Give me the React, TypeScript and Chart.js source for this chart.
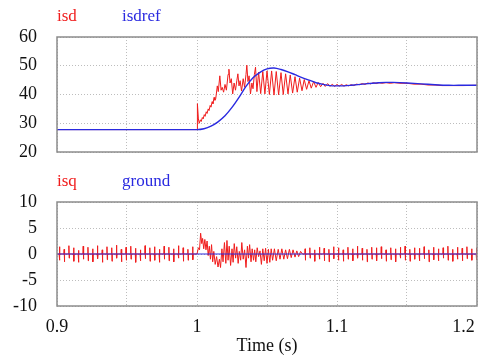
import React, { useEffect, useRef } from 'react';
import { Chart, registerables } from 'chart.js';

Chart.register(...registerables);

// ---------- axis / tick data ----------
const xGridValues = [0.9, 0.95, 1.0, 1.05, 1.1, 1.15, 1.2];
const xTickLabels = ['0.9', '', '1', '', '1.1', '', '1.2      '];
const topYTicks = [20, 30, 40, 50, 60];
const bottomYTicks = [-10, -5, 0, 5, 10];

// ---------- isd (red, top) ----------
const isdTime = [
  0.9, 1.0, 1.0003, 1.001, 1.0016, 1.0024, 1.003, 1.0038, 1.0044, 1.0052, 1.0058, 1.0066, 1.0072,
  1.008, 1.0086, 1.0094, 1.01, 1.0108, 1.0114, 1.0122, 1.0128, 1.0134, 1.0145, 1.0152, 1.0163,
  1.0172, 1.018, 1.019, 1.02, 1.021, 1.0222, 1.0228, 1.0236, 1.0245, 1.0255, 1.0265, 1.0275,
  1.0285, 1.0292, 1.03, 1.0308, 1.0318, 1.033, 1.034, 1.035, 1.0356, 1.0364, 1.0372, 1.0382,
  1.0392, 1.04, 1.041, 1.0418, 1.0428, 1.044, 1.0455, 1.047, 1.0485, 1.05, 1.0517, 1.0533,
  1.055, 1.0566, 1.0583, 1.06, 1.0616, 1.0633, 1.065, 1.0666, 1.0683, 1.07, 1.0716, 1.0733,
  1.075, 1.0766, 1.0783, 1.08, 1.0816, 1.0833, 1.085, 1.0866, 1.0883, 1.09, 1.0916, 1.0933,
  1.095, 1.0966, 1.0983, 1.1, 1.1016, 1.1033, 1.105, 1.1066, 1.1083, 1.11, 1.112, 1.114, 1.116,
  1.118, 1.12, 1.122, 1.124, 1.126, 1.128, 1.13, 1.132, 1.135, 1.138, 1.141, 1.145, 1.15, 1.155,
  1.16, 1.165, 1.17, 1.175, 1.18, 1.19, 1.2,
];
const isdValue = [
  27.8, 27.8, 36.8, 31.5, 30.0, 31.2, 30.6, 32.0, 31.5, 33.0, 32.4, 34.0, 33.4,
  35.0, 34.4, 36.2, 35.6, 37.5, 36.8, 39.0, 38.0, 38.6, 43.0, 41.0, 46.5,
  41.5, 42.5, 40.8, 43.5, 41.5, 47.0, 48.8, 44.0, 45.5, 40.2, 44.0, 41.5,
  45.0, 47.2, 43.0, 44.8, 41.2, 45.5, 42.5, 47.0, 50.2, 44.5, 46.5, 40.2,
  44.0, 42.0, 47.0, 49.5, 41.0, 47.8, 40.3, 48.0, 40.2, 48.2, 40.0, 48.2,
  39.8, 48.0, 39.9, 47.6, 40.0, 47.2, 40.2, 46.8, 40.5, 46.2, 40.8, 45.7,
  41.3, 45.2, 41.8, 44.8, 42.2, 44.5, 42.5, 44.2, 42.7, 43.9, 42.8, 43.8,
  42.8, 43.6, 42.8, 43.5, 42.9, 43.5, 42.9, 43.4, 43.0, 43.4, 43.1, 43.6, 43.4,
  43.8, 43.5, 44.0, 43.7, 44.1, 43.8, 44.1, 43.9, 44.1, 43.9, 44.1, 43.9, 43.9, 43.6,
  43.6, 43.3, 43.3, 43.1, 43.1, 43.1, 43.2,
];

// ---------- isdref (blue, top) ----------
const isdrefTime = [
  0.9, 1.0, 1.005, 1.01, 1.015, 1.02, 1.025, 1.03, 1.035, 1.04, 1.045, 1.05, 1.055, 1.06,
  1.065, 1.07, 1.075, 1.08, 1.085, 1.09, 1.095, 1.1, 1.105, 1.11, 1.12, 1.13, 1.135, 1.14,
  1.15, 1.16, 1.17, 1.18, 1.19, 1.2,
];
const isdrefValue = [
  27.8, 27.8, 28.1, 29.0, 30.5, 32.6, 35.5, 39.0, 42.8, 45.8, 47.7, 48.9, 49.2, 48.7,
  47.9, 46.9, 45.9, 45.0, 44.1, 43.5, 43.1, 43.0, 43.0, 43.2, 43.7, 44.1, 44.2, 44.2,
  44.0, 43.7, 43.4, 43.2, 43.2, 43.2,
];

// ---------- isq (red, bottom) ----------
const isqSpikeTime = [
  0.9015, 0.9049, 0.9083, 0.9117, 0.9151, 0.9185, 0.9219, 0.9253, 0.9287, 0.9321, 0.9355,
  0.9389, 0.9423, 0.9457, 0.9491, 0.9525, 0.9559, 0.9593, 0.9627, 0.9661, 0.9695, 0.9729,
  0.9763, 0.9797, 0.9831, 0.9865, 0.9899, 0.9933, 0.9967,
  1.077, 1.0804, 1.0838, 1.0872, 1.0906, 1.094, 1.0974, 1.1008, 1.1042, 1.1076, 1.111,
  1.1144, 1.1178, 1.1212, 1.1246, 1.128, 1.1314, 1.1348, 1.1382, 1.1416, 1.145, 1.1484,
  1.1518, 1.1552, 1.1586, 1.162, 1.1654, 1.1688, 1.1722, 1.1756, 1.179, 1.1824, 1.1858,
  1.1892, 1.1926, 1.196, 1.1994,
];
const isqSpikeUp = [
  1.4, 0.9, 1.6, 1.2, 0.7, 1.5, 1.3, 1.0, 1.6, 0.8, 1.4, 1.2, 1.7, 0.9, 1.3, 1.5, 1.1, 0.8,
  1.6, 1.2, 1.4, 0.9, 1.5, 1.3, 1.0, 1.6, 1.2, 0.9, 1.4,
  1.0, 1.2, 0.8, 1.3, 1.1, 0.9, 1.4, 1.2, 0.8, 1.3, 1.0, 1.5, 1.1, 0.9, 1.3, 1.2, 1.4, 0.8,
  1.2, 1.0, 1.3, 1.5, 0.9, 1.2, 1.1, 1.4, 0.8, 1.3, 1.0, 1.2, 1.5, 0.9, 1.3, 1.1, 1.4, 1.0, 1.2,
];
const isqSpikeDown = [
  1.2, 1.5, 0.8, 1.4, 1.6, 1.0, 1.3, 1.5, 0.9, 1.6, 1.1, 1.4, 0.8, 1.5, 1.2, 1.0, 1.6, 1.3,
  0.9, 1.4, 1.2, 1.6, 1.0, 1.3, 1.5, 0.8, 1.4, 1.2, 1.1,
  1.2, 0.8, 1.4, 1.0, 1.3, 1.5, 0.9, 1.2, 1.4, 1.0, 1.3, 0.8, 1.2, 1.5, 1.0, 1.3, 0.9, 1.4,
  1.1, 1.5, 0.8, 1.2, 1.4, 1.0, 1.3, 0.9, 1.5, 1.1, 1.3, 0.8, 1.2, 1.4, 1.0, 1.3, 0.9, 1.2, 1.1,
];
const isqTransTime = [
  0.9, 1.0, 1.001, 1.0018, 1.0026, 1.0034, 1.004, 1.0048, 1.0056, 1.0064, 1.0072, 1.008,
  1.0088, 1.0096, 1.0104, 1.0112, 1.012, 1.013, 1.014, 1.015, 1.016, 1.0168, 1.0178, 1.0186,
  1.0196, 1.0206, 1.0214, 1.0222, 1.023, 1.024, 1.025, 1.0258, 1.0266, 1.0276, 1.0284, 1.0294,
  1.0302, 1.0312, 1.032, 1.033, 1.034, 1.035, 1.036, 1.0368, 1.0376, 1.0386, 1.0394, 1.0404,
  1.0412, 1.042, 1.043, 1.044, 1.045, 1.046, 1.047, 1.048, 1.049, 1.05, 1.051, 1.052, 1.053,
  1.054, 1.0553, 1.0566, 1.058, 1.0593, 1.0606, 1.062, 1.0633, 1.0646, 1.066, 1.0673, 1.0686,
  1.07, 1.0713, 1.0726, 1.074, 1.0753, 1.2,
];
const isqTransValue = [
  0, 0, 1.2, 0.8, 4.0, 2.0, 3.0, 1.0, 2.8, 0.8, 2.5, -0.3,
  1.5, -1.0, 1.8, -1.5, 0.5, -2.0, -0.5, -2.5, -1.0, -2.6, 1.0, -1.5,
  2.2, -1.8, 2.6, -1.2, 1.5, -2.2, 1.0, -1.6, 2.0, -0.8, 1.4, -1.8,
  0.5, -1.2, 2.2, -1.0, 0.8, -2.6, 1.5, -0.8, 1.8, -1.5, 1.0, -1.2,
  0.8, -1.5, 1.2, -0.5, 0.6, -2.0, 1.0, -1.3, 1.1, -1.8, 0.9, -1.6, 1.0,
  -1.2, 1.0, -1.3, 0.9, -1.0, 1.0, -1.0, 0.8, -0.9, 0.9, -0.7, 0.8,
  -0.6, 0.6, -0.5, 0.5, 0, 0,
];

// ---------- ground (blue, bottom) ----------
const groundTime = [0.9, 1.2];
const groundValue = [0, 0];

// ---------- helpers ----------
const pts = (t: number[], v: number[]) => t.map((x, i) => ({ x, y: v[i] }));

function buildIsq() {
  const out: { x: number; y: number }[] = pts(isqTransTime, isqTransValue);
  isqSpikeTime.forEach((t, i) => {
    out.push({ x: t, y: 0 });
    out.push({ x: t + 0.0002, y: isqSpikeUp[i] });
    out.push({ x: t + 0.0004, y: -isqSpikeDown[i] });
    out.push({ x: t + 0.0006, y: 0 });
  });
  out.sort((a, b) => a.x - b.x);
  return out;
}

const SERIF = "'Liberation Serif', 'Times New Roman', serif";
const RED = '#f01c1c';
const BLUE = '#2a2ae0';
const TICK_FONT = { family: SERIF, size: 18 };

const boxPlugin = {
  id: 'plotBox',
  afterDraw(chart: any) {
    const { ctx, chartArea } = chart;
    const { left, top, right, bottom } = chartArea;
    ctx.save();
    ctx.strokeStyle = '#8c8c8c';
    ctx.lineWidth = 1.5;
    ctx.strokeRect(left, top, right - left, bottom - top);
    ctx.restore();
  },
};

function xScale(showLabels: boolean) {
  return {
    type: 'linear',
    min: 0.9,
    max: 1.2,
    afterBuildTicks: (s: any) => {
      s.ticks = xGridValues.map((value) => ({ value }));
    },
    ticks: {
      display: showLabels,
      autoSkip: false,
      maxRotation: 0,
      padding: 10,
      color: '#111',
      font: TICK_FONT,
      callback: (_v: any, i: number) => xTickLabels[i],
    },
    title: showLabels
      ? {
          display: true,
          text: 'Time (s)',
          color: '#111',
          font: TICK_FONT,
          padding: { top: 0, bottom: 3 },
        }
      : { display: false },
    grid: { color: '#bdbdbd', lineWidth: 1, drawTicks: false },
    border: { display: false, dash: [1, 2] },
    afterFit: (s: any) => {
      s.height = showLabels ? 54 : 0;
      s.paddingLeft = 0;
      s.paddingRight = 0;
    },
  };
}

function yScale(min: number, max: number, ticks: number[]) {
  return {
    min,
    max,
    afterBuildTicks: (s: any) => {
      s.ticks = ticks.map((value) => ({ value }));
    },
    ticks: {
      padding: 20,
      color: '#111',
      font: TICK_FONT,
      callback: (_v: any, i: number) => String(ticks[i]),
    },
    grid: { color: '#bdbdbd', lineWidth: 1, drawTicks: false },
    border: { display: false, dash: [1, 2] },
    afterFit: (s: any) => {
      s.width = 57;
      s.paddingTop = 0;
      s.paddingBottom = 0;
    },
  };
}

export default function App() {
  const topRef = useRef<HTMLCanvasElement>(null);
  const botRef = useRef<HTMLCanvasElement>(null);

  useEffect(() => {
    const top = new Chart(topRef.current as HTMLCanvasElement, {
      type: 'line',
      data: {
        datasets: [
          {
            label: 'isdref',
            data: pts(isdrefTime, isdrefValue),
            borderColor: BLUE,
            borderWidth: 1.4,
            pointRadius: 0,
            tension: 0.3,
          },
          {
            label: 'isd',
            data: pts(isdTime, isdValue),
            borderColor: RED,
            borderWidth: 1,
            pointRadius: 0,
          },
        ],
      },
      options: {
        animation: false,
        responsive: false,
        devicePixelRatio: 1,
        events: [],
        layout: { padding: { top: 37, right: 5, left: 0, bottom: 13 } },
        plugins: { legend: { display: false }, tooltip: { enabled: false } },
        scales: {
          x: xScale(false) as any,
          y: yScale(20, 60, topYTicks) as any,
        },
      },
      plugins: [boxPlugin],
    });

    const bot = new Chart(botRef.current as HTMLCanvasElement, {
      type: 'line',
      data: {
        datasets: [
          {
            label: 'ground',
            data: pts(groundTime, groundValue),
            borderColor: BLUE,
            borderWidth: 1.2,
            pointRadius: 0,
          },
          {
            label: 'isq',
            data: buildIsq(),
            borderColor: RED,
            borderWidth: 1,
            pointRadius: 0,
          },
        ],
      },
      options: {
        animation: false,
        responsive: false,
        devicePixelRatio: 1,
        events: [],
        layout: { padding: { top: 37, right: 5, left: 0, bottom: 0 } },
        plugins: { legend: { display: false }, tooltip: { enabled: false } },
        scales: {
          x: xScale(true) as any,
          y: yScale(-10, 10, bottomYTicks) as any,
        },
      },
      plugins: [boxPlugin],
    });

    return () => {
      top.destroy();
      bot.destroy();
    };
  }, []);

  const legendStyle = (left: number, top: number, color: string): React.CSSProperties => ({
    position: 'absolute',
    left,
    top,
    color,
    fontFamily: SERIF,
    fontSize: 17,
    lineHeight: '17px',
    whiteSpace: 'nowrap',
  });

  return (
    <div style={{ position: 'absolute', left: 0, top: 0, width: 482, height: 360, background: '#fff', overflow: 'hidden' }}>
      <canvas ref={topRef} width={482} height={165} style={{ position: 'absolute', left: 0, top: 0, width: 482, height: 165 }} />
      <canvas ref={botRef} width={482} height={195} style={{ position: 'absolute', left: 0, top: 165, width: 482, height: 195 }} />
      <span style={legendStyle(57, 7, RED)}>isd</span>
      <span style={legendStyle(122, 7, BLUE)}>isdref</span>
      <span style={legendStyle(57, 172, RED)}>isq</span>
      <span style={legendStyle(122, 172, BLUE)}>ground</span>
    </div>
  );
}
